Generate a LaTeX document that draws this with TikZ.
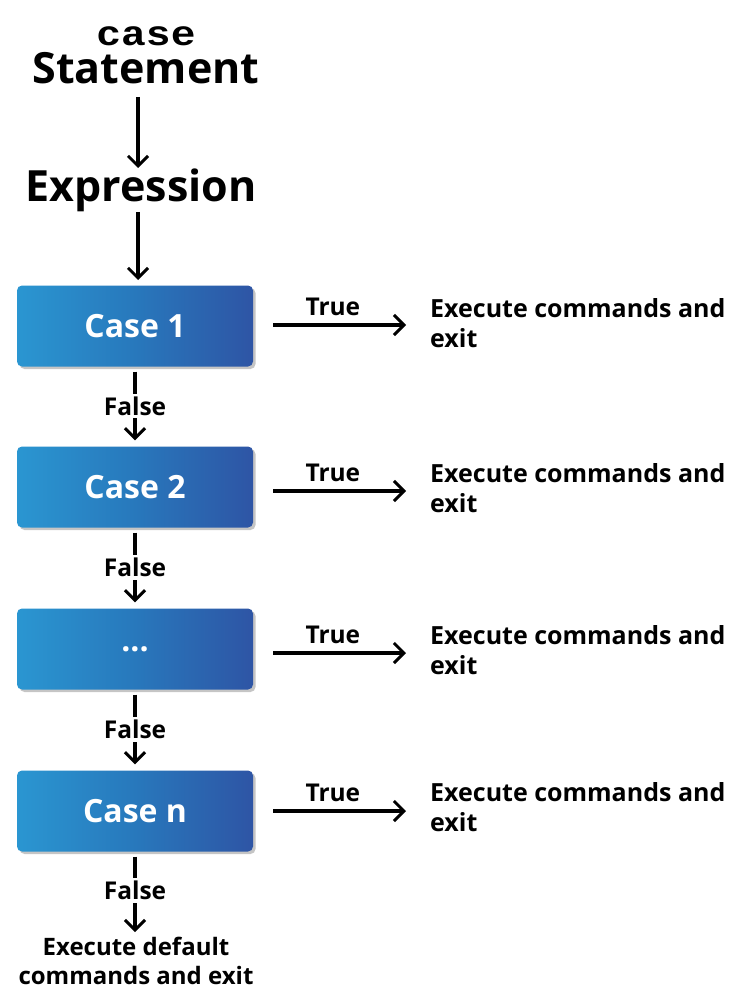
\documentclass[tikz,border=0pt]{standalone}
\usepackage{fontspec}
\setmainfont{Open Sans}
\newfontfamily\codefont{Liberation Mono}[FakeStretch=1.18]
\usetikzlibrary{arrows.meta,shadows}
\definecolor{boxleft}{HTML}{2A96D1}
\definecolor{boxmid}{HTML}{2878BC}
\definecolor{boxright}{HTML}{2E55A5}
\begin{document}
\begin{tikzpicture}[x=1pt,y=-1pt,
  arr/.style={line width=3.2pt,-{Straight Barb[length=10pt,width=20pt,line width=3pt]}},
  title/.style={font=\bfseries\fontsize{43}{45}\selectfont,inner sep=0pt},
  casebox/.style={rectangle,rounded corners=5pt,minimum width=236pt,minimum height=81pt,
     left color=boxleft,right color=boxright,middle color=boxmid,text=white,
     font=\bfseries\fontsize{32}{36}\selectfont,
     drop shadow={shadow xshift=2.5pt,shadow yshift=-2.5pt,opacity=0.45,fill=gray}},
  lbl/.style={font=\bfseries\fontsize{24.5}{28}\selectfont,inner sep=3pt},
  exec/.style={font=\bfseries\fontsize{25}{30}\selectfont,align=left,anchor=west,inner sep=0pt}]
\useasboundingbox[fill=white] (0,0) rectangle (733,1000);

\node[inner sep=0pt,font=\codefont\bfseries\fontsize{35}{35}\selectfont] (kw) at (146,36) {case};
\node[title] (stmt) at (146,68) {Statement};
\node[title] (expr) at (141,190) {Expression};
\coordinate (a1s) at (138,97);
\coordinate (a1e) at (138,168);
\coordinate (a2s) at (138,212);
\coordinate (a2e) at (138,280);
\draw[arr] (a1s) -- (a1e);
\draw[arr] (a2s) -- (a2e);

\node[casebox] (c1) at (135,326) {Case 1};
\node[casebox] (c2) at (135,487) {Case 2};
\node[casebox] (c3) at (135,649) {...};
\node[casebox] (c4) at (135,811) {Case n};

\node[exec] (e1) at (430,323) {Execute commands and\\exit};
\node[exec] (e2) at (430,488) {Execute commands and\\exit};
\node[exec] (e3) at (430,650) {Execute commands and\\exit};
\node[exec] (e4) at (430,807) {Execute commands and\\exit};

\foreach \i/\y in {1/325,2/491,3/653,4/811}{
  \coordinate (ts\i) at (273,\y);
  \coordinate (te\i) at (406,\y);
  \draw[arr] (ts\i) -- (te\i) node[lbl,pos=0.45,above=5pt] {True};
}

\node[font=\bfseries\fontsize{24}{29}\selectfont,align=center,inner sep=0pt] (def) at (136,961) {Execute default\\commands and exit};

\draw[arr] ([yshift=-5pt]c1.south) -- ([yshift=6pt]c2.north) node[lbl,midway,fill=white] {False};
\draw[arr] ([yshift=-5pt]c2.south) -- ([yshift=6pt]c3.north) node[lbl,midway,fill=white] {False};
\draw[arr] ([yshift=-5pt]c3.south) -- ([yshift=6pt]c4.north) node[lbl,midway,fill=white] {False};
\draw[arr] ([yshift=-5pt]c4.south) -- ([yshift=5pt]def.north -| c4.south) node[lbl,pos=0.45,fill=white] {False};
\end{tikzpicture}
\end{document}
